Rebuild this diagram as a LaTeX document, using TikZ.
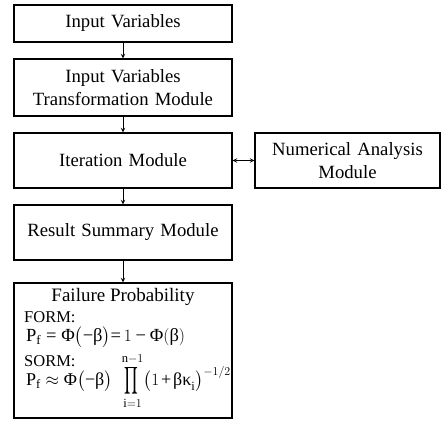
\documentclass[tikz,border=0pt]{standalone}
\usepackage{fontspec}
\usepackage{amsmath}
\usepackage{graphicx}
\setmainfont{Liberation Serif}
\usetikzlibrary{positioning}

\newcommand{\narrowprod}{\mathop{\scalebox{0.62}[1.1]{$\displaystyle\prod$}}\limits}

\begin{document}
\begin{tikzpicture}[
    x=1pt, y=1pt,
    node distance=15.7pt,
    box/.style={rectangle, draw=black, line width=1.3pt, minimum width=218pt, text width=212pt, align=center, inner sep=0pt, font=\fontsize{18.7}{23}\selectfont},
    sub/.style={anchor=west, inner sep=0pt, font=\fontsize{16.5}{20}\selectfont},
    eq/.style={anchor=west, inner sep=0pt, font=\fontsize{18.5}{22}\selectfont},
    arrow/.style={->, line width=1pt, >=stealth}
]
\useasboundingbox (0,0) rectangle (443,-430);

\node[box, minimum height=37pt] (inp) at (123,-23.5) {Input Variables};
\node[box, minimum height=57pt, below=of inp] (trans) {Input Variables\\Transformation Module};
\node[box, minimum height=55pt, below=of trans] (iter) {Iteration Module};
\node[box, minimum height=55pt, minimum width=185pt, text width=180pt, right=21.7pt of iter] (num) {Numerical Analysis\\Module};
\node[box, minimum height=55pt, below=of iter] (res) {Result Summary Module};
\node[box, minimum height=135pt, below=21.7pt of res] (fail) {};

% contents of the last box
\node[inner sep=0pt, font=\fontsize{19}{23}\selectfont] (ftitle) at (123,-297) {Failure Probability};
\node[sub] (form) at (24,-317) {FORM:};
\node[eq] (formeq) at (26,-337) {$\text{P}_\text{f} \mathrel{\text{=}} \text{Φ}\bigl(\text{−β}\bigr)\text{=}\,1 \mathbin{\text{−}} \text{Φ}(\text{β})$};
\node[sub] (sorm) at (24,-361) {SORM:};
\node[eq, font=\fontsize{18}{22}\selectfont] (sormeq) at (26,-381) {$\displaystyle \text{P}_\text{f} \approx \text{Φ}\bigl(\text{−β}\bigr)\mkern7mu\narrowprod_{\text{i}=1}^{\text{n}-1}\bigl(1\mkern2mu\text{+}\mkern2mu\text{βκ}_\text{i}\bigr)^{-1/2}$};

\draw[arrow] (inp) -- (trans);
\draw[arrow] (trans) -- (iter);
\draw[arrow] (iter) -- (res);
\draw[arrow] (res) -- (fail);
\draw[arrow, <->] (iter) -- (num);
\end{tikzpicture}
\end{document}
